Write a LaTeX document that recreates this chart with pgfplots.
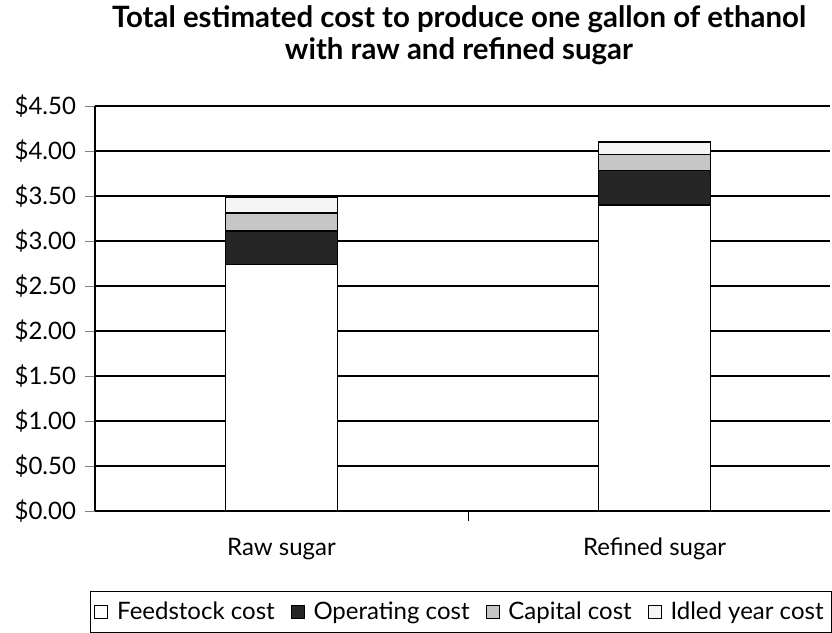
\documentclass[border=0pt]{standalone}
\usepackage{pgfplots}
\pgfplotsset{compat=1.18}
\usepackage{fontspec}
\setmainfont{Lato}
\begin{document}
\begin{tikzpicture}[font=\fontsize{12}{14}\selectfont, x=1pt, y=1pt]
\useasboundingbox (0,0) rectangle (416,316.5);
\node[align=center, font=\fontsize{14.7}{16}\bfseries\selectfont] at (229.5,299) {Total estimated cost to produce one gallon of ethanol\\with raw and refined sugar};
\begin{axis}[
  at={(47.5pt,61pt)}, anchor=south west,
  scale only axis, width=367.5pt, height=202.5pt,
  ybar stacked, bar width=56pt,
  xmin=-0.5, xmax=1.47, ymin=0, ymax=4.5,
  xtick={0,1}, xticklabels={Raw sugar,Refined sugar},
  x tick style={draw=none},
  extra x ticks={0.5}, extra x tick labels={},
  extra x tick style={x tick style={draw=black}},
  ytick={0,0.5,...,4.5},
  yticklabel={\$\pgfmathprintnumber[fixed,fixed zerofill,precision=2]{\tick}},
  /pgf/number format/assume math mode=true,
  tick align=outside, major tick length=5pt,
  ymajorgrids, grid style={black, line width=0.8pt},
  axis x line*=bottom, axis y line*=left,
  axis line style={black, line width=0.6pt},
  xticklabel style={yshift=-5pt},
  yticklabel style={xshift=-1pt},
  legend style={at={(1.003,-0.301)}, anchor=south east, legend columns=-1,
    draw=black, line width=0.6pt, font=\fontsize{12}{14}\selectfont,
    inner xsep=2pt, inner ysep=3pt,
    /tikz/every odd column/.append style={column sep=2.5pt},
    /tikz/every even column/.append style={column sep=6pt}},
  legend image code/.code={\draw[#1, line width=0.4pt] (0pt,-3pt) rectangle (6.5pt,3.5pt);},
]
\addplot[fill=white, draw=black, line width=0.6pt] coordinates {(0,2.74) (1,3.40)};
\addplot[fill=black!85, draw=black, line width=0.6pt] coordinates {(0,0.37) (1,0.38)};
\addplot[fill=gray!45, draw=black, line width=0.6pt] coordinates {(0,0.20) (1,0.18)};
\addplot[fill=gray!8, draw=black, line width=0.6pt] coordinates {(0,0.17) (1,0.14)};
\legend{Feedstock cost, Operating cost, Capital cost, Idled year cost}
\end{axis}
\end{tikzpicture}
\end{document}
